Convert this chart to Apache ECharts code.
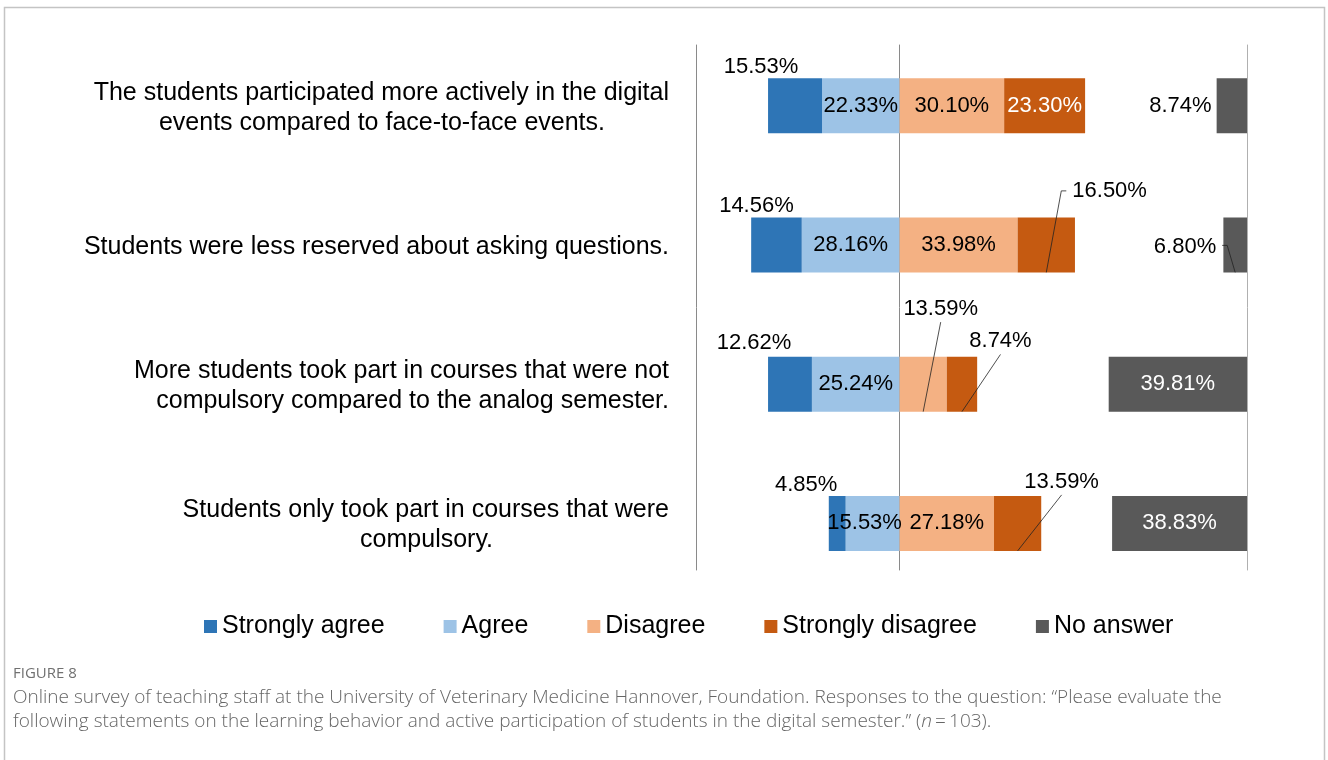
<!DOCTYPE html>
<html><head><meta charset="utf-8">
<script src="https://cdn.jsdelivr.net/npm/echarts@6/dist/echarts.min.js"></script>
<style>html,body{margin:0;padding:0;background:#fff}#c{width:1328px;height:760px}</style>
</head><body><div id="c"></div>
<script>
// ---------------- data ----------------
const categories = [
  "The students participated more actively in the digital\nevents compared to face-to-face events.",
  "Students were less reserved about asking questions.",
  "More students took part in courses that were not\ncompulsory compared to the analog semester.",
  "Students only took part in courses that were\ncompulsory."
];
const seriesNames = ["Strongly agree", "Agree", "Disagree", "Strongly disagree", "No answer"];
const stronglyAgree    = [15.53, 14.56, 12.62, 4.85];
const agree            = [22.33, 28.16, 25.24, 15.53];
const disagree         = [30.10, 33.98, 13.59, 27.18];
const stronglyDisagree = [23.30, 16.50, 8.74, 13.59];
const noAnswer         = [8.74, 6.80, 39.81, 38.83];
const total = 100;

// ---------------- styles ----------------
const FONT = '"Liberation Sans", Arial, sans-serif';
const CAPFONT = '"Open Sans", Lato, sans-serif';
const colors = { sa: '#2e75b6', a: '#9dc3e6', d: '#f4b183', sd: '#c55a11', na: '#595959' };
const axisMin = -58.6, axisMax = 100;
const barHeight = 55;
const labelSize = 22;
// second-line right indent for category labels (px)
const line2Indent = [64, 0, 0, 176];
// label placement per segment (offsets in px from segment centre)
const placement = {
  sa: [{dx: -34, dy: -39}, {dx: -20, dy: -39}, {dx: -36, dy: -41.5}, {dx: -31, dy: -38.5}],
  a:  [{}, {}, {}, {dx: -8}],
  d:  [{}, {}, {leader: 'bottom', dx: 17.5, dy: -75}, {}],
  sd: [{color: '#fff'}, {leader: 'left', dx: 26, dy: -54}, {leader: 'bottom', dx: 38.5, dy: -42.7}, {leader: 'bottom', dx: 44, dy: -41.5}],
  na: [{pos: 'left'}, {leader: 'right', dx: -19, dy: 2}, {color: '#fff'}, {color: '#fff'}]
};

// ---------------- geometry helpers (from data) ----------------
const valuesOf = { sa: stronglyAgree, a: agree, d: disagree, sd: stronglyDisagree, na: noAnswer };
function segRange(key, i) {
  if (key === 'sa') return [-(agree[i] + stronglyAgree[i]), -agree[i]];
  if (key === 'a') return [-agree[i], 0];
  if (key === 'd') return [0, disagree[i]];
  if (key === 'sd') return [disagree[i], disagree[i] + stronglyDisagree[i]];
  return [total - noAnswer[i], total];
}
const fmt = v => Math.abs(v).toFixed(2) + '%';

function labelFor(key, i) {
  const c = placement[key][i];
  if (c.leader) return { show: false };
  if (c.pos) return { position: c.pos, distance: 5 };
  return { offset: [c.dx || 0, c.dy || 0], color: c.color || '#000' };
}

function makeBar(name, key, signedValues, stack) {
  return {
    type: 'bar', name: name, stack: stack, barWidth: barHeight, barGap: '-100%',
    itemStyle: { color: colors[key] },
    label: { show: true, position: 'inside', formatter: p => fmt(p.value), fontSize: labelSize,
             fontFamily: FONT, color: '#000', textBorderWidth: 0 },
    emphasis: { disabled: true },
    data: signedValues.map((v, i) => ({ value: v, label: labelFor(key, i) }))
  };
}

// leader-line labels
const leaderItems = [];
['sa', 'a', 'd', 'sd', 'na'].forEach(key => {
  placement[key].forEach((c, i) => {
    if (c.leader) {
      const r = segRange(key, i);
      leaderItems.push({ value: [r[0], r[1], i], key: key, cfg: c, text: fmt(valuesOf[key][i]) });
    }
  });
});

function renderLeader(params, api) {
  const item = leaderItems[params.dataIndex];
  const p0 = api.coord([api.value(0), api.value(2)]);
  const p1 = api.coord([api.value(1), api.value(2)]);
  const cx = (p0[0] + p1[0]) / 2, cy = p0[1];
  const bottom = cy + barHeight / 2;
  const c = item.cfg;
  const tx = cx + c.dx, ty = cy + c.dy;
  let align = 'center', pts;
  if (c.leader === 'left') {
    align = 'left';
    pts = [[tx - 6, ty], [tx - 11, ty], [cx, bottom]];
  } else if (c.leader === 'right') {
    align = 'right';
    pts = [[tx + 6, ty - 1.5], [tx + 11, ty - 1.5], [cx, bottom]];
  } else {
    pts = [[tx, ty + 13], [cx, bottom]];
  }
  return {
    type: 'group',
    children: [
      { type: 'polyline', shape: { points: pts }, style: { stroke: '#222', lineWidth: 0.8, fill: 'none' } },
      { type: 'text', style: { text: item.text, x: tx, y: ty, align: align, verticalAlign: 'middle',
          fontSize: labelSize, fontFamily: FONT, fill: '#000' } }
    ]
  };
}

// category label rich text
const rich = {};
categories.forEach((c, i) => {
  rich['a' + i] = { align: 'right', fontSize: 25, fontFamily: FONT, color: '#000', lineHeight: 30 };
  rich['b' + i] = { align: 'right', fontSize: 25, fontFamily: FONT, color: '#000', lineHeight: 30,
                    padding: [0, line2Indent[i], 0, 0] };
});
function catFormatter(value, idx) {
  const lines = value.split('\n');
  let s = '{a' + idx + '|' + lines[0] + '}';
  if (lines[1]) s += '\n{b' + idx + '|' + lines[1] + '}';
  return s;
}

const chart = echarts.init(document.getElementById('c'), null, { renderer: 'canvas' });
chart.setOption({
  animation: false,
  backgroundColor: '#fff',
  graphic: [{
    type: 'rect', silent: true, z: -10,
    shape: { x: 4.5, y: 7.5, width: 1320, height: 800 },
    style: { fill: 'none', stroke: '#c4c4c4', lineWidth: 1.5 }
  }],
  title: [
    { text: 'FIGURE 8', left: 13, top: 666, padding: 0,
      textStyle: { fontSize: 15, fontWeight: 'normal', color: '#707070', fontFamily: CAPFONT } },
    { text: 'Online survey of teaching staff at the University of Veterinary Medicine Hannover, Foundation. Responses to the question: \u201cPlease evaluate the\nfollowing statements on the learning behavior and active participation of students in the digital semester.\u201d ({i|n}\u2009=\u2009103).',
      left: 13, top: 686, padding: 0,
      textStyle: { fontSize: 19, lineHeight: 24, fontWeight: 300, color: '#666', fontFamily: CAPFONT,
        rich: { i: { fontSize: 19, lineHeight: 24, fontWeight: 300, fontStyle: 'italic', color: '#666', fontFamily: CAPFONT } } } }
  ],
  legend: {
    data: seriesNames, left: 199, top: 609, icon: 'rect', itemWidth: 13, itemHeight: 13, itemGap: 59,
    selectedMode: false,
    textStyle: { fontSize: 25, color: '#000', fontFamily: FONT }
  },
  grid: [
    { left: 696, right: 81, top: 36, height: 557 },
    { left: 696, right: 81, top: 45, height: 525 }
  ],
  xAxis: [
    { type: 'value', min: axisMin, max: axisMax, show: false, gridIndex: 0 },
    { type: 'value', min: axisMin, max: axisMax, gridIndex: 1,
      axisLine: { show: false }, axisTick: { show: false }, axisLabel: { show: false }, splitLine: { show: false } }
  ],
  yAxis: [
    { type: 'category', data: categories, inverse: true, gridIndex: 0,
      axisLine: { show: false }, axisTick: { show: false }, splitLine: { show: false },
      axisLabel: { margin: 27, formatter: catFormatter, rich: rich, fontSize: 25, fontFamily: FONT, color: '#000',
                   padding: [4, 0, 0, 0] } },
    { type: 'value', gridIndex: 1, min: 0, max: 1, position: 'left',
      axisLine: { show: true, onZero: false, lineStyle: { color: '#8a8a8a', width: 1 } },
      axisTick: { show: false }, axisLabel: { show: false }, splitLine: { show: false } },
    { type: 'value', gridIndex: 1, min: 0, max: 1, position: 'left',
      axisLine: { show: true, onZero: true, lineStyle: { color: '#8a8a8a', width: 1 } },
      axisTick: { show: false }, axisLabel: { show: false }, splitLine: { show: false } },
    { type: 'value', gridIndex: 1, min: 0, max: 1, position: 'right',
      axisLine: { show: true, onZero: false, lineStyle: { color: '#b0b0b0', width: 1 } },
      axisTick: { show: false }, axisLabel: { show: false }, splitLine: { show: false } }
  ],
  series: [
    makeBar('Agree', 'a', agree.map(v => -v), 'main'),
    makeBar('Strongly agree', 'sa', stronglyAgree.map(v => -v), 'main'),
    makeBar('Disagree', 'd', disagree, 'main'),
    makeBar('Strongly disagree', 'sd', stronglyDisagree, 'main'),
    { type: 'bar', name: '_pad', stack: 'na', barWidth: barHeight, barGap: '-100%', silent: true,
      itemStyle: { color: 'rgba(0,0,0,0)' }, label: { show: false }, emphasis: { disabled: true },
      data: noAnswer.map(v => total - v) },
    makeBar('No answer', 'na', noAnswer, 'na'),
    { type: 'custom', name: '_leaders', renderItem: renderLeader, clip: false, silent: true, z: 5,
      encode: { x: [0, 1], y: 2 },
      data: leaderItems.map(d => d.value) }
  ]
});
</script>
</body></html>
